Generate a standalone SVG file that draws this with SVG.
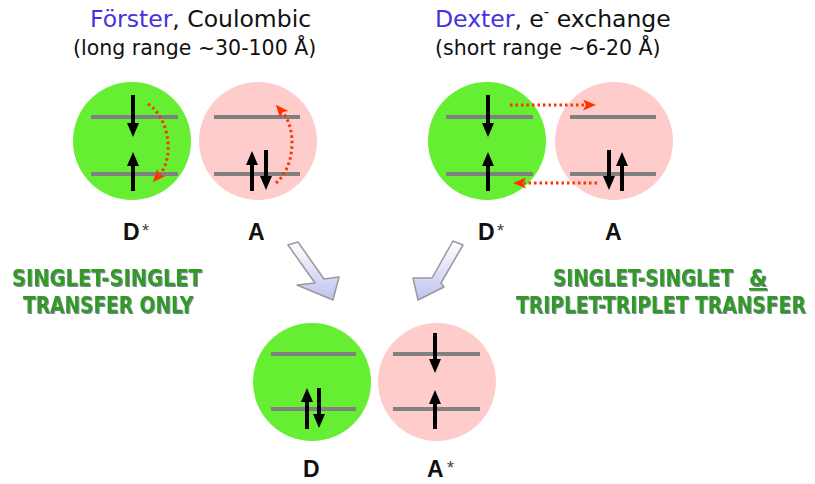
<svg xmlns="http://www.w3.org/2000/svg" width="815" height="484" viewBox="0 0 815 484">
<style>
.title{font-family:"DejaVu Sans",sans-serif;font-size:23.5px;fill:#111}
.sub{font-family:"DejaVu Sans",sans-serif;font-size:20.5px;fill:#111}
.name{fill:#4433dd}
.green{font-family:"DejaVu Sans Condensed","DejaVu Sans",sans-serif;font-weight:bold;font-size:23px;fill:#339922;filter:url(#sh)}
.lbl{font-family:"Liberation Sans",Arial,sans-serif;font-weight:bold;font-size:23px;fill:#111}
.star{font-family:"Liberation Sans",Arial,sans-serif;font-size:18px;fill:#444}
.don{fill:#66ee33}
.acc{fill:#ffcccc}
.lev{stroke:#808080;stroke-width:4}
.spin{stroke:#000;stroke-width:4;fill:none;marker-end:url(#ah)}
.xfer{stroke:#ff3300;stroke-width:3;stroke-dasharray:2.5 3;fill:none;marker-end:url(#rh)}
.big{fill:url(#bg);stroke:#999;stroke-width:1.5;stroke-linejoin:round}
</style>
<defs>
<marker id="ah" viewBox="0 0 14 12" refX="1" refY="6" markerWidth="14" markerHeight="12" markerUnits="userSpaceOnUse" orient="auto"><path d="M0,0 L14,6 L0,12 Z" fill="#000"/></marker>
<marker id="rh" viewBox="0 0 13 11" refX="2" refY="5.5" markerWidth="13" markerHeight="11" markerUnits="userSpaceOnUse" orient="auto"><path d="M0,0 L13,5.5 L0,11 L3,5.5 Z" fill="#ff3300"/></marker>
<linearGradient id="bg" x1="0" y1="0" x2="0" y2="1"><stop offset="0" stop-color="#ffffff"/><stop offset="1" stop-color="#c0c0f2"/></linearGradient>
<filter id="sh" x="-2%" y="-10%" width="104%" height="120%"><feDropShadow dx="1" dy="1" stdDeviation="0.2" flood-color="#1a2a66" flood-opacity="0.6"/></filter>
</defs>

<g id="titles">
<text class="title" x="90" y="27"><tspan class="name">Förster</tspan>, Coulombic</text>
<text class="sub" x="73" y="55">(long range ~30-100 Å)</text>
<text class="title" x="435" y="27"><tspan class="name">Dexter</tspan>, e<tspan font-size="15" dy="-10">-</tspan><tspan dy="10"> exchange</tspan></text>
<text class="sub" x="435" y="55">(short range ~6-20 Å)</text>
</g>

<g id="notes">
<text class="green" transform="matrix(0.9,0,0,1,12,286)" textLength="211" lengthAdjust="spacingAndGlyphs">SINGLET-SINGLET</text>
<text class="green" transform="matrix(0.9,0,0,1,23,313)" textLength="189" lengthAdjust="spacingAndGlyphs">TRANSFER ONLY</text>
<text class="green" transform="matrix(0.9,0,0,1,553,286)" textLength="200" lengthAdjust="spacingAndGlyphs">SINGLET-SINGLET</text>
<text class="green" x="749" y="286" text-decoration="underline">&amp;</text>
<text class="green" transform="matrix(0.9,0,0,1,516,313)" textLength="322" lengthAdjust="spacingAndGlyphs">TRIPLET-TRIPLET TRANSFER</text>
</g>

<g id="forster-donor">
<circle class="don" cx="132" cy="141" r="59"/>
<line class="lev" x1="91" y1="117" x2="178" y2="117"/>
<line class="lev" x1="91" y1="174" x2="178" y2="174"/>
<line class="spin" x1="133" y1="95" x2="133" y2="124"/>
<line class="spin" x1="133" y1="191" x2="133" y2="165"/>
<text class="lbl" x="123" y="240">D</text><text class="star" x="142" y="237">*</text>
</g>

<g id="forster-acceptor">
<circle class="acc" cx="258" cy="141" r="59"/>
<line class="lev" x1="214" y1="117" x2="300" y2="117"/>
<line class="lev" x1="214" y1="174" x2="300" y2="174"/>
<line class="spin" x1="252" y1="191" x2="252" y2="164"/>
<line class="spin" x1="266" y1="150" x2="266" y2="177"/>
<text class="lbl" x="248" y="240">A</text>
</g>

<g id="dexter-donor">
<circle class="don" cx="487" cy="141" r="59"/>
<line class="lev" x1="446" y1="117" x2="533" y2="117"/>
<line class="lev" x1="446" y1="174" x2="533" y2="174"/>
<line class="spin" x1="488" y1="95" x2="488" y2="124"/>
<line class="spin" x1="488" y1="191" x2="488" y2="165"/>
<text class="lbl" x="478" y="240">D</text><text class="star" x="497" y="237">*</text>
</g>

<g id="dexter-acceptor">
<circle class="acc" cx="614" cy="141" r="59"/>
<line class="lev" x1="570" y1="117" x2="656" y2="117"/>
<line class="lev" x1="570" y1="174" x2="656" y2="174"/>
<line class="spin" x1="609" y1="150" x2="609" y2="177"/>
<line class="spin" x1="622" y1="191" x2="622" y2="165"/>
<text class="lbl" x="605" y="240">A</text>
</g>

<g id="product-donor">
<circle class="don" cx="312" cy="382" r="59"/>
<line class="lev" x1="271" y1="354" x2="356" y2="354"/>
<line class="lev" x1="271" y1="409" x2="356" y2="409"/>
<line class="spin" x1="307" y1="429" x2="307" y2="401"/>
<line class="spin" x1="319" y1="388" x2="319" y2="415"/>
<text class="lbl" x="303" y="477">D</text>
</g>

<g id="product-acceptor">
<circle class="acc" cx="437" cy="382" r="59"/>
<line class="lev" x1="393" y1="354" x2="480" y2="354"/>
<line class="lev" x1="393" y1="409" x2="480" y2="409"/>
<line class="spin" x1="435" y1="333" x2="435" y2="360"/>
<line class="spin" x1="435" y1="429" x2="435" y2="403"/>
<text class="lbl" x="427" y="477">A</text><text class="star" x="447" y="474">*</text>
</g>

<g id="connectors">
<path class="xfer" d="M148,104 C170,118 174,158 160,174"/>
<path class="xfer" d="M276,183 C296,166 296,128 283,113"/>
<path class="xfer" d="M510,105 L585,105"/>
<path class="xfer" d="M597,183 L524,183"/>
<polygon class="big" points="288,245 298,242 324,279 339,277 333,300 297,285 315,283"/>
<polygon class="big" points="463,245 453,241 432,278 413,278 418,300 444,287 441,283"/>
</g>
</svg>
